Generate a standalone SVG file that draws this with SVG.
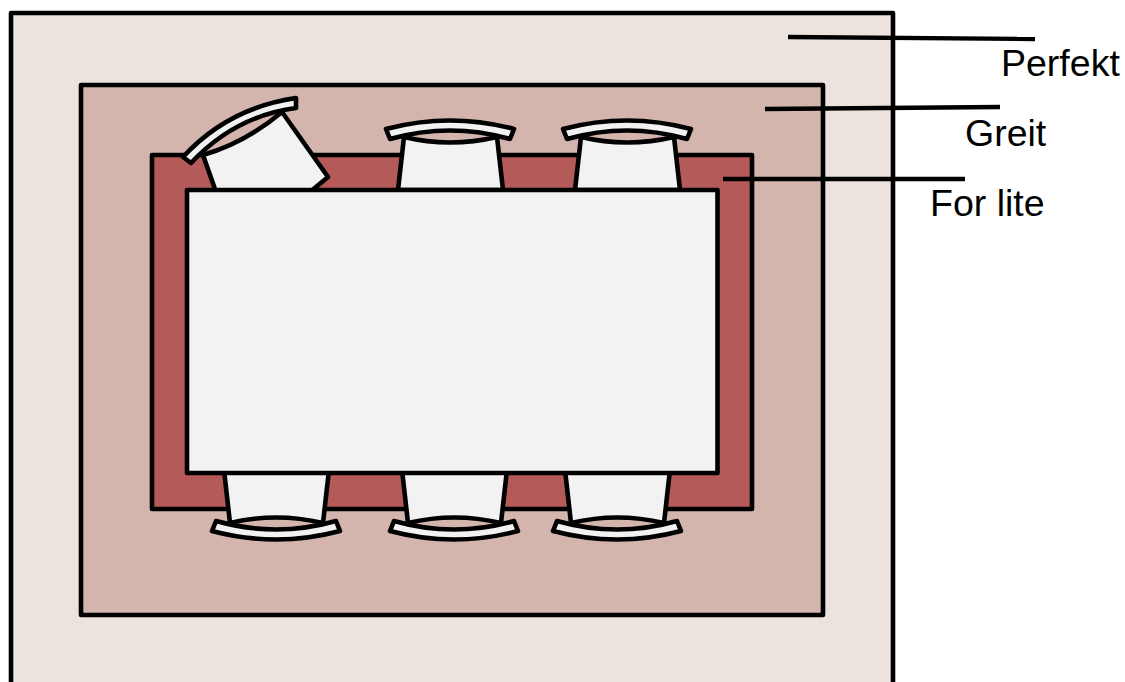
<svg xmlns="http://www.w3.org/2000/svg" width="1125" height="682" viewBox="0 0 1125 682">
<defs>
<style>
.o{stroke:#000;stroke-width:4.6;stroke-linejoin:round}
.s{fill:#f2f2f2}
.l{stroke:#000;stroke-width:4.4;fill:none}
text{font-family:"Liberation Sans",Arial,sans-serif;font-size:37.5px;fill:#000}
</style>
<g id="chair">
<path class="o s" d="M398 190L404 137Q450 148 497 137L503 190Z"/>
<path class="o s" d="M386 129Q450 112 514 129L510 139Q450 122 390 139Z"/>
</g>
</defs>
<rect width="1125" height="682" fill="#fff"/>
<g id="zone-perfekt"><rect class="o" x="11" y="13" width="882" height="700" fill="#ece2de"/></g>
<g id="zone-greit"><rect class="o" x="81" y="85" width="742" height="530" fill="#d4b5ae"/></g>
<g id="zone-for-lite"><rect class="o" x="152" y="155" width="600" height="354" fill="#b45a59"/></g>
<g id="chair-top-1">
<path class="o s" d="M216 192L203 155Q245 143 282 112L328 177L310 192Z"/>
<path class="o s" d="M183 157Q228 108 296 98L296 108Q235 116 191 163Z"/>
</g>
<g id="chair-top-2"><use href="#chair"/></g>
<g id="chair-top-3"><use href="#chair" transform="translate(177 0)"/></g>
<g id="chair-bottom-1"><use href="#chair" transform="translate(-174 660) scale(1 -1)"/></g>
<g id="chair-bottom-2"><use href="#chair" transform="translate(4 660) scale(1 -1)"/></g>
<g id="chair-bottom-3"><use href="#chair" transform="translate(167 660) scale(1 -1)"/></g>
<g id="table"><rect class="o s" x="187" y="190" width="530.500" height="283"/></g>
<g id="connectors">
<line class="l" x1="788" y1="37" x2="1035" y2="39"/>
<line class="l" x1="765" y1="109" x2="1000" y2="107"/>
<line class="l" x1="723" y1="179" x2="965" y2="179"/>
</g>
<g id="labels">
<text x="1001" y="76">Perfekt</text>
<text x="965" y="146">Greit</text>
<text x="930" y="216">For lite</text>
</g>
</svg>
